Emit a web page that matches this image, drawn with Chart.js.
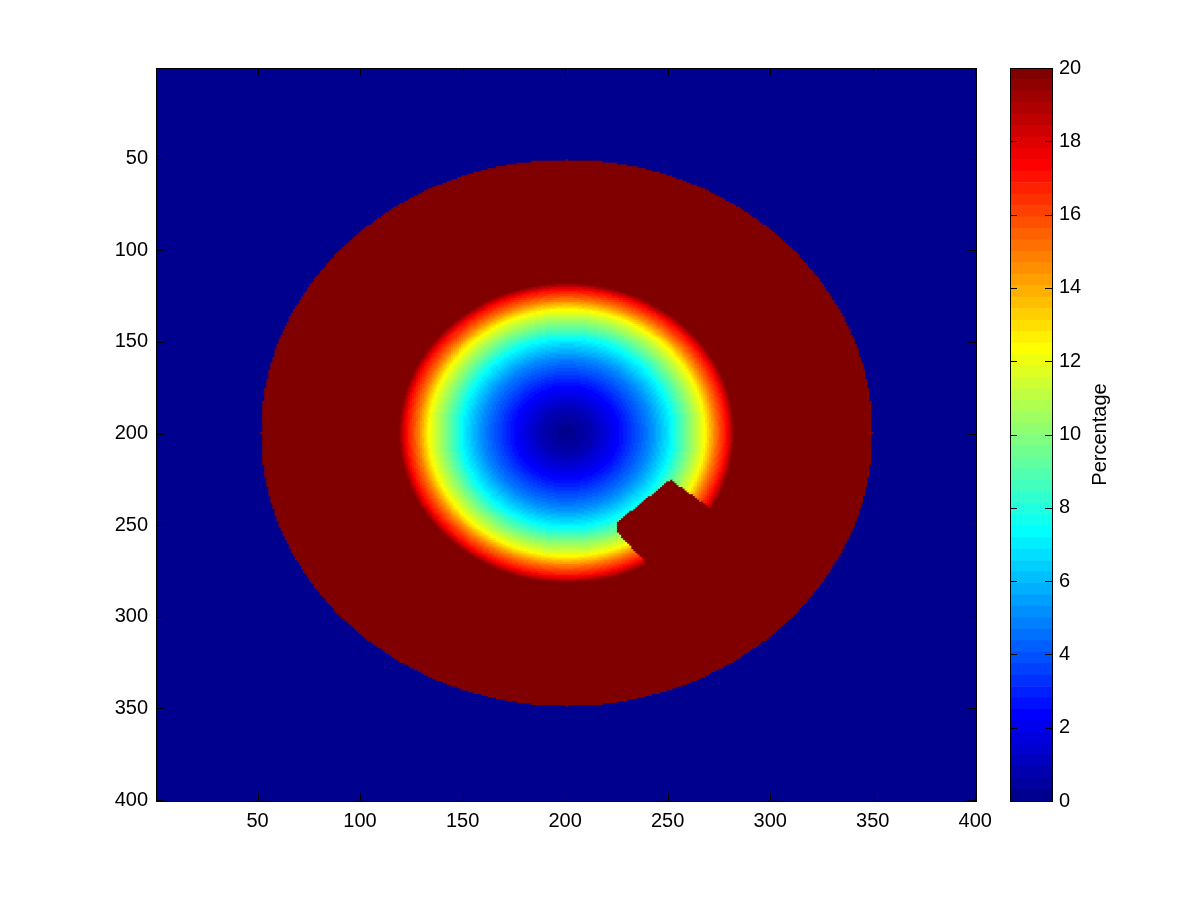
<!DOCTYPE html>
<html>
<head>
<meta charset="utf-8">
<title>Percentage map</title>
<script src="https://cdn.jsdelivr.net/npm/chart.js@4.4.0/dist/chart.umd.min.js"></script>
<style>
    html, body { margin: 0; padding: 0; background: #fff; }
    #wrap { position: relative; width: 1200px; height: 900px; }
    #mapChart { position: absolute; left: 0; top: 0; }
    #barChart { position: absolute; left: 1000px; top: 0; }
</style>
</head>
<body>
<div id="wrap">
    <canvas id="mapChart" width="1000" height="900"></canvas>
    <canvas id="barChart" width="200" height="900"></canvas>
</div>
<script>
// Image size and the cell size used to draw it
const gridSize = 400;
const cellStep = 1;

// Tick labels
const xTicks = [50, 100, 150, 200, 250, 300, 350, 400];
const yTicks = [50, 100, 150, 200, 250, 300, 350, 400];
const colorTicks = [0, 2, 4, 6, 8, 10, 12, 14, 16, 18, 20];
const colorRange = [0, 20];
const colorLevels = 64;
const colorLabel = 'Percentage';

// Disc (image units)
const discCenter = [201, 200];
const outerRadius = 149;
const outsideValue = 0;
const ringValue = 20;

// Radial profile of the inner disc: value at distance from the centre
const profileRadius = [0, 12, 26, 41, 51, 60, 67, 72.5, 78, 82];
const profileValue = [0, 0.8, 2.5, 5, 7.2, 10, 12.2, 15, 17.2, 20];

// Corners of the notch cut into the inner disc
const notchX = [251.6, 225.9, 225.9, 254.9, 286.6];
const notchY = [225.5, 248.3, 254.6, 289.1, 253.8];

// jet colormap, 64 levels
const jet = (i) => {
    // i = 1..64
    const b = i <= 8 ? (i + 8) / 16 : i <= 24 ? 1 : i <= 40 ? (40 - i) / 16 : 0;
    const g = i <= 8 ? 0 : i <= 24 ? (i - 8) / 16 : i <= 40 ? 1 : i <= 56 ? (56 - i) / 16 : 0;
    const r = i <= 24 ? 0 : i <= 40 ? (i - 24) / 16 : i <= 56 ? 1 : (72 - i) / 16;
    return `rgb(${Math.round(r * 255)},${Math.round(g * 255)},${Math.round(b * 255)})`;
};

const colorFor = (v) => {
    const t = (v - colorRange[0]) / (colorRange[1] - colorRange[0]);
    const idx = Math.max(1, Math.min(colorLevels, Math.floor(t * colorLevels) + 1));
    return jet(idx);
};

const profileAt = (r) => {
    for (let k = 1; k < profileRadius.length; k++) {
        if (r <= profileRadius[k]) {
            const f = (r - profileRadius[k - 1]) / (profileRadius[k] - profileRadius[k - 1]);
            return profileValue[k - 1] + f * (profileValue[k] - profileValue[k - 1]);
        }
    }
    return profileValue[profileValue.length - 1];
};

const inNotch = (x, y) => {
    let inside = false;
    for (let i = 0, j = notchX.length - 1; i < notchX.length; j = i++) {
        if ((notchY[i] > y) !== (notchY[j] > y) &&
            x < (notchX[j] - notchX[i]) * (y - notchY[i]) / (notchY[j] - notchY[i]) + notchX[i]) {
            inside = !inside;
        }
    }
    return inside;
};

const valueAt = (x, y) => {
    const r = Math.hypot(x - discCenter[0], y - discCenter[1]);
    if (r > outerRadius) return outsideValue;
    if (inNotch(x, y)) return ringValue;
    return profileAt(r);
};

// Build the cells (one per image pixel, centred on whole numbers)
const cells = [];
const cellColors = [];
for (let cy = 1; cy <= gridSize; cy += cellStep) {
    for (let cx = 1; cx <= gridSize; cx += cellStep) {
        cells.push({ x: cx, y: cy });
        cellColors.push(colorFor(valueAt(cx, cy)));
    }
}

Chart.defaults.font.family = '"Liberation Sans", Arial, Helvetica, sans-serif';
Chart.defaults.font.size = 20;
Chart.defaults.color = '#000';

// Box round the plot area with inward tick marks on every side
const framePlugin = {
    id: 'frame',
    afterDatasetsDraw(chart, args, opts) {
        const { ctx, chartArea: a } = chart;
        const len = opts.tickLength || 8;
        ctx.save();
        ctx.strokeStyle = '#000';
        ctx.lineWidth = 1;
        ctx.beginPath();
        Object.values(chart.scales).forEach(s => {
            if (!s.options.display) return;
            s.ticks.forEach(t => {
                const p = Math.round(s.getPixelForValue(t.value)) + 0.5;
                if (s.isHorizontal()) {
                    ctx.moveTo(p, a.bottom);
                    ctx.lineTo(p, a.bottom - len);
                    ctx.moveTo(p, a.top);
                    ctx.lineTo(p, a.top + len);
                } else {
                    ctx.moveTo(a.left, p);
                    ctx.lineTo(a.left + len, p);
                    ctx.moveTo(a.right, p);
                    ctx.lineTo(a.right - len, p);
                }
            });
        });
        ctx.stroke();
        ctx.strokeRect(Math.round(a.left) + 0.5, Math.round(a.top) + 0.5,
            Math.round(a.right - a.left), Math.round(a.bottom - a.top));
        ctx.restore();
    }
};

const axisOpts = (ticks, size, horizontal) => ({
    type: 'linear',
    min: 0.5,
    max: gridSize + 0.5,
    grid: { display: false, drawTicks: false },
    border: { display: false },
    ticks: { padding: 8, autoSkip: false, maxRotation: 0 },
    afterBuildTicks: (s) => { s.ticks = ticks.map(v => ({ value: v })); },
    afterFit: (s) => { if (horizontal) s.height = size; else s.width = size; }
});

new Chart(document.getElementById('mapChart'), {
    type: 'scatter',
    data: {
        datasets: [{
            data: cells,
            backgroundColor: cellColors,
            borderWidth: 0,
            pointStyle: 'rect',
            // a little over one cell wide so neighbouring squares leave no seams
            radius: (c) => {
                const s = c.chart.scales.x;
                return (Math.abs(s.getPixelForValue(cellStep) - s.getPixelForValue(0)) + 1.0) / Math.SQRT2;
            }
        }]
    },
    options: {
        responsive: false,
        animation: false,
        devicePixelRatio: 1,
        events: [],
        layout: { padding: { left: 100, top: 68, right: 23, bottom: 69 } },
        scales: {
            x: Object.assign(axisOpts(xTicks, 30, true), { position: 'bottom' }),
            y: Object.assign(axisOpts(yTicks, 56, false), { position: 'left', reverse: true })
        },
        plugins: {
            legend: { display: false },
            tooltip: { enabled: false },
            frame: { tickLength: 8 }
        }
    },
    plugins: [framePlugin]
});

// Colorbar: one floating bar per colour level
const levelStep = (colorRange[1] - colorRange[0]) / colorLevels;
const barSets = [];
for (let i = 0; i < colorLevels; i++) {
    barSets.push({
        data: [[colorRange[0] + i * levelStep, colorRange[0] + (i + 1) * levelStep]],
        backgroundColor: jet(i + 1),
        borderWidth: 0,
        grouped: false,
        barPercentage: 1,
        categoryPercentage: 1
    });
}

const colorTitlePlugin = {
    id: 'colorTitle',
    afterDraw(chart) {
        const { ctx, chartArea: a } = chart;
        ctx.save();
        ctx.translate(100, (a.top + a.bottom) / 2);
        ctx.rotate(-Math.PI / 2);
        ctx.font = '20px "Liberation Sans", Arial, sans-serif';
        ctx.fillStyle = '#000';
        ctx.textAlign = 'center';
        ctx.textBaseline = 'middle';
        ctx.fillText(colorLabel, 0, 0);
        ctx.restore();
    }
};

new Chart(document.getElementById('barChart'), {
    type: 'bar',
    data: { labels: ['c'], datasets: barSets },
    options: {
        responsive: false,
        animation: false,
        devicePixelRatio: 1,
        events: [],
        layout: { padding: { left: 10, top: 68, right: 98, bottom: 99 } },
        scales: {
            x: { display: false },
            y: {
                position: 'right',
                min: colorRange[0],
                max: colorRange[1],
                grid: { display: false, drawTicks: false },
                border: { display: false },
                ticks: { padding: 7 },
                afterBuildTicks: (s) => { s.ticks = colorTicks.map(v => ({ value: v })); },
                afterFit: (s) => { s.width = 50; }
            }
        },
        plugins: {
            legend: { display: false },
            tooltip: { enabled: false },
            frame: { tickLength: 7 }
        }
    },
    plugins: [framePlugin, colorTitlePlugin]
});
</script>
</body>
</html>
